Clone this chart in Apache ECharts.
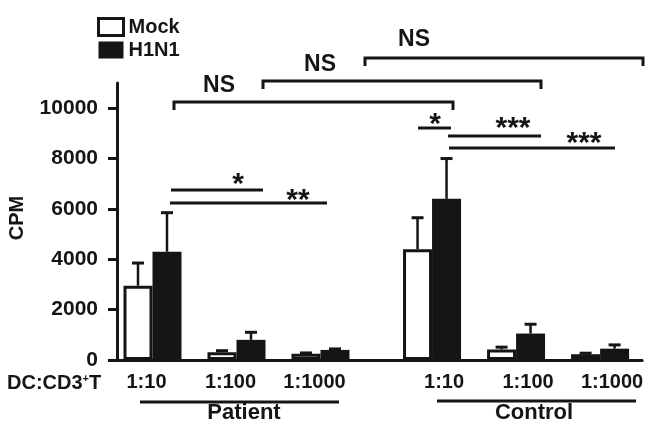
<!DOCTYPE html>
<html>
<head>
<meta charset="utf-8">
<script src="https://cdn.jsdelivr.net/npm/echarts@6/dist/echarts.min.js"></script>
<style>html,body{margin:0;padding:0;background:#fff;}#c{width:646px;height:427px;}</style>
</head>
<body>
<div id="c"></div>
<script>
// ---- data ----
const categories = ['1:10', '1:100', '1:1000'];
const patientMock = [2950, 310, 250];
const patientMockSD = [900, 60, 30];
const patientH1N1 = [4300, 800, 400];
const patientH1N1SD = [1550, 300, 40];
const controlMock = [4400, 420, 230];
const controlMockSD = [1250, 90, 40];
const controlH1N1 = [6400, 1050, 450];
const controlH1N1SD = [1600, 370, 150];
const yTicks = [0, 2000, 4000, 6000, 8000, 10000];

const BLACK = '#151515';
const FONT = 'Liberation Sans';
const BW = 29;

function errSeries(name, grid, vals, sds, idxShift, side) {
  return {
    type: 'custom', name: name + ' err', xAxisIndex: grid, yAxisIndex: grid, z: 5,
    data: vals.map((v, i) => [i + idxShift, v, v + sds[i]]),
    renderItem: function (params, api) {
      const p0 = api.coord([api.value(0), api.value(1)]);
      const p1 = api.coord([api.value(0), api.value(2)]);
      const x = p0[0] + side * BW / 2;
      return {
        type: 'group',
        children: [
          { type: 'line', shape: { x1: x, y1: p0[1], x2: x, y2: p1[1] }, style: { stroke: BLACK, lineWidth: 2.5 } },
          { type: 'line', shape: { x1: x - 6, y1: p1[1], x2: x + 6, y2: p1[1] }, style: { stroke: BLACK, lineWidth: 3 } }
        ]
      };
    }
  };
}

const mockStyle = { color: '#ffffff', borderColor: BLACK, borderWidth: 3 };
const h1Style = { color: BLACK };

const chart = echarts.init(document.getElementById('c'), null, { renderer: 'canvas' });

const lines = [
  // NS brackets
  [174, 102, 453, 102, true], [263, 81, 541, 81, true], [365, 58, 643, 58, true],
  // patient stars
  [171, 190, 263, 190, false], [170, 203, 327, 203, false],
  // control stars
  [418, 128, 451, 128, false], [448, 136, 541, 136, false], [449, 148, 615, 148, false],
  // group underlines
  [140, 402, 339, 402, false], [437, 401, 636, 401, false]
];
const graphics = [];
lines.forEach(l => {
  const pts = l[4] ? [[l[0], l[1] + 8], [l[0], l[1]], [l[2], l[3]], [l[2], l[3] + 8]] : [[l[0], l[1]], [l[2], l[3]]];
  graphics.push({ type: 'polyline', shape: { points: pts }, style: { stroke: BLACK, lineWidth: 3, fill: null } });
});
const texts = [
  ['NS', 219, 86, 23], ['NS', 320, 65, 23], ['NS', 414, 40, 23],
  ['*', 238, 185, 30], ['**', 298, 201, 30],
  ['*', 435, 125, 30], ['***', 513, 129, 30], ['***', 584, 144, 30],
  ['Patient', 244, 413, 22], ['Control', 534, 413, 22]
];
texts.forEach(t => {
  graphics.push({ type: 'text', x: t[1], y: t[2], style: { text: t[0], fill: BLACK, font: 'bold ' + t[3] + 'px ' + FONT, align: 'center', verticalAlign: 'middle' } });
});
graphics.push({ type: 'text', x: 17.5, y: 218, rotation: Math.PI / 2,
  style: { text: 'CPM', fill: BLACK, font: 'bold 20px ' + FONT, align: 'center', verticalAlign: 'middle' } });
graphics.push({ type: 'text', x: 7, y: 383,
  style: { text: '{a|DC:CD3}{s|+}{a|T}', align: 'left', verticalAlign: 'middle',
    rich: { a: { font: 'bold 20px ' + FONT, fill: BLACK, verticalAlign: 'middle' },
            s: { font: 'bold 11px ' + FONT, fill: BLACK, padding: [0, 0, 9, 0], verticalAlign: 'middle' } } } });

const axisLabelStyle = { color: BLACK, fontFamily: FONT, fontWeight: 'bold', fontSize: 20 };

chart.setOption({
  animation: false,
  backgroundColor: '#ffffff',
  legend: {
    left: 97, top: 17, padding: 0, orient: 'vertical', itemWidth: 25, itemHeight: 17, itemGap: 3,
    icon: 'rect',
    textStyle: { color: BLACK, fontFamily: FONT, fontWeight: 'bold', fontSize: 20 },
    data: [{ name: 'Mock', itemStyle: { borderWidth: 3, borderColor: BLACK, color: '#fff' } }, { name: 'H1N1' }]
  },
  grid: [
    { left: 110.5, width: 252, top: 83, height: 277 },
    { left: 306, width: 338, top: 83, height: 277 }
  ],
  xAxis: [
    { type: 'category', gridIndex: 0, data: categories,
      axisLine: { lineStyle: { color: BLACK, width: 3 } }, axisTick: { show: false },
      axisLabel: Object.assign({ margin: 12, padding: [0, 12, 0, 0] }, axisLabelStyle) },
    { type: 'category', gridIndex: 1, data: [''].concat(categories),
      axisLine: { lineStyle: { color: BLACK, width: 3 } }, axisTick: { show: false },
      axisLabel: Object.assign({ margin: 12, padding: [0, 0, 0, 24] }, axisLabelStyle) }
  ],
  yAxis: [
    { type: 'value', gridIndex: 0, min: 0, max: 11000, interval: 2000, offset: -6.5,
      splitLine: { show: false },
      axisLine: { show: true, lineStyle: { color: BLACK, width: 3 } },
      axisTick: { show: true, length: 9, lineStyle: { color: BLACK, width: 3 }, customValues: yTicks },
      axisLabel: Object.assign({ margin: 19, customValues: yTicks, formatter: v => String(v) }, axisLabelStyle, { fontSize: 21 }) },
    { type: 'value', gridIndex: 1, min: 0, max: 11000, interval: 2000, show: false, splitLine: { show: false } }
  ],
  series: [
    { type: 'bar', name: 'Mock', xAxisIndex: 0, yAxisIndex: 0, data: patientMock, barWidth: BW, barGap: '0%', itemStyle: mockStyle },
    { type: 'bar', name: 'H1N1', xAxisIndex: 0, yAxisIndex: 0, data: patientH1N1, barWidth: BW, barGap: '0%', itemStyle: h1Style },
    { type: 'bar', name: 'Mock', xAxisIndex: 1, yAxisIndex: 1, data: ['-'].concat(controlMock), barWidth: BW, barGap: '0%', itemStyle: mockStyle },
    { type: 'bar', name: 'H1N1', xAxisIndex: 1, yAxisIndex: 1, data: ['-'].concat(controlH1N1), barWidth: BW, barGap: '0%', itemStyle: h1Style },
    errSeries('Mock', 0, patientMock, patientMockSD, 0, -1),
    errSeries('H1N1', 0, patientH1N1, patientH1N1SD, 0, 1),
    errSeries('Mock', 1, controlMock, controlMockSD, 1, -1),
    errSeries('H1N1', 1, controlH1N1, controlH1N1SD, 1, 1)
  ],
  graphic: graphics
});
</script>
</body>
</html>
